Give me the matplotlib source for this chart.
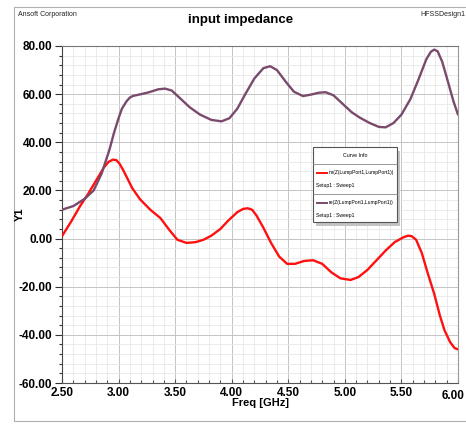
import matplotlib
matplotlib.use("Agg")
import matplotlib.pyplot as plt
from matplotlib.patches import Rectangle
from matplotlib.ticker import MultipleLocator, FuncFormatter, FormatStrFormatter

plt.rcParams['font.family'] = ['Liberation Sans Narrow', 'Liberation Sans', 'DejaVu Sans']

# re(Z(LumpPort1,LumpPort1))
re_freq = [2.50, 2.60, 2.70, 2.78, 2.85, 2.92, 2.96, 3.00, 3.03, 3.07, 3.10, 3.13,
           3.20, 3.27, 3.35, 3.41, 3.47, 3.55, 3.63, 3.72, 3.82, 3.91, 3.98, 4.05,
           4.12, 4.20, 4.28, 4.34, 4.40, 4.48, 4.55, 4.63, 4.70, 4.77, 4.83, 4.90,
           4.98, 5.06, 5.13, 5.22, 5.30, 5.36, 5.43, 5.50, 5.58, 5.65, 5.72, 5.76,
           5.79, 5.82, 5.86, 5.90, 5.96, 6.00]
re_val = [12.0, 13.5, 16.5, 20.0, 27.0, 37.0, 44.0, 50.0, 54.0, 57.0, 58.6, 59.3,
          60.0, 60.8, 62.0, 62.3, 61.5, 58.0, 54.5, 51.5, 49.3, 48.7, 50.0, 54.0,
          60.0, 66.5, 70.8, 71.6, 70.0, 65.0, 61.0, 59.2, 59.8, 60.6, 60.8, 59.5,
          56.0, 52.5, 50.3, 48.0, 46.4, 46.2, 48.0, 51.5, 58.0, 66.0, 74.5, 77.6,
          78.5, 77.8, 73.5, 67.0, 57.0, 51.5]

# im(Z(LumpPort1,LumpPort1))
im_freq = [2.50, 2.58, 2.66, 2.73, 2.80, 2.87, 2.91, 2.95, 2.98, 3.01, 3.04, 3.08,
           3.12, 3.19, 3.28, 3.37, 3.45, 3.52, 3.60, 3.68, 3.75, 3.82, 3.90, 3.97,
           4.05, 4.10, 4.14, 4.18, 4.22, 4.28, 4.35, 4.42, 4.49, 4.56, 4.64, 4.72,
           4.80, 4.88, 4.96, 5.05, 5.12, 5.20, 5.28, 5.36, 5.44, 5.52, 5.56, 5.59,
           5.63, 5.68, 5.73, 5.79, 5.84, 5.88, 5.93, 5.97, 6.00]
im_val = [1.0, 7.0, 13.5, 18.5, 24.0, 29.5, 31.8, 32.8, 32.6, 31.0, 28.5, 24.8,
          21.0, 16.3, 12.0, 8.5, 3.5, -0.5, -1.8, -1.5, -0.5, 1.2, 4.0, 7.5,
          11.0, 12.3, 12.6, 12.0, 9.5, 4.5, -2.0, -7.5, -10.5, -10.5, -9.3, -9.0,
          -10.5, -14.0, -16.5, -17.2, -16.0, -13.0, -9.0, -5.0, -1.5, 0.6, 1.2, 1.0,
          -0.5, -6.0, -14.0, -23.0, -32.0, -38.0, -43.0, -45.5, -46.0]

red = '#ff1010'
purple = '#7a4a6c'

fig = plt.figure(figsize=(4.66, 4.24), dpi=100)
fig.patch.set_facecolor('white')

# outer report frame
fig.add_artist(Rectangle((14/466, 1 - 421/424), 1.0, (421 - 7)/424,
                         transform=fig.transFigure, fill=False,
                         edgecolor='#b0b0b0', linewidth=0.8))

ax = fig.add_axes([62/466, 1 - 383/424, 396/466, 337/424])

ax.plot(im_freq, im_val, color=red, lw=1.7, solid_joinstyle='round',
        solid_capstyle='round', zorder=3)
ax.plot(re_freq, re_val, color=purple, lw=1.7, solid_joinstyle='round',
        solid_capstyle='round', zorder=3)

ax.set_xlim(2.5, 6.0)
ax.set_ylim(-60, 80)
ax.xaxis.set_major_locator(MultipleLocator(0.5))
ax.xaxis.set_minor_locator(MultipleLocator(0.1))
ax.yaxis.set_major_locator(MultipleLocator(20))
ax.yaxis.set_minor_locator(MultipleLocator(4))
# last x label is drawn by hand a bit to the left so it stays inside
ax.xaxis.set_major_formatter(FuncFormatter(lambda v, p: '' if v > 5.99 else '%.2f' % v))
ax.yaxis.set_major_formatter(FormatStrFormatter('%.2f'))

ax.grid(which='major', color='#c4c4c4', lw=0.7)
ax.grid(which='minor', color='#e8e8e8', lw=0.6)
ax.set_axisbelow(True)

ax.tick_params(axis='y', which='major', direction='out', length=5, width=0.8,
               labelsize=8.5, pad=2, colors='#333333', labelcolor='black')
ax.tick_params(axis='y', which='minor', direction='out', length=2.5, width=0.8,
               colors='#333333')
ax.tick_params(axis='x', which='major', direction='in', length=3, width=0.8,
               labelsize=8.5, pad=3, colors='#555555', labelcolor='black')
ax.tick_params(axis='x', which='minor', direction='in', length=2, width=0.8,
               colors='#555555')
for lab in ax.get_xticklabels() + ax.get_yticklabels():
    lab.set_fontweight('bold')

ax.annotate('6.00', xy=(6.0, 0), xycoords=('data', 'axes fraction'),
            xytext=(-3.5, -5.2), textcoords='offset points', ha='center', va='top',
            fontsize=8.5, fontweight='bold', annotation_clip=False)

ax.spines['left'].set_color('#444444')
ax.spines['bottom'].set_color('#555555')
ax.spines['top'].set_color('#777777')
ax.spines['right'].set_color('#999999')

ax.set_xlabel('Freq [GHz]', fontsize=8, fontweight='bold', labelpad=-1)
fig.text(20/466, 1 - 214/424, 'Y1', rotation=90, fontsize=8, fontweight='bold',
         ha='center', va='center')

fig.text(241/466, 1 - 20/424, 'input impedance', fontsize=9.5, fontweight='bold',
         ha='center', va='center')
fig.text(18/466, 1 - 15/424, 'Ansoft Corporation', fontsize=5,
         ha='left', va='center', color='#222222')
fig.text(465/466, 1 - 15/424, 'HFSSDesign1', fontsize=5,
         ha='right', va='center', color='#222222')

# Curve Info box
def fx(px):
    return (px - 62) / 396.0

def fy(py):
    return (383 - py) / 337.0

x0, x1, y0, y1 = fx(313), fx(397), fy(222), fy(147)
ax.add_patch(Rectangle((x0 + 0.008, y0 - 0.012), x1 - x0, y1 - y0,
                       transform=ax.transAxes, facecolor='#c4c4c4',
                       edgecolor='none', zorder=4))
ax.add_patch(Rectangle((x0, y0), x1 - x0, y1 - y0, transform=ax.transAxes,
                       facecolor='white', edgecolor='#555555', lw=0.8, zorder=5))
ax.text((x0 + x1) / 2, fy(155.5), 'Curve Info', transform=ax.transAxes,
        fontsize=3.8, ha='center', va='center', zorder=6)
for sep in [163.5, 194]:
    ax.plot([x0, x1], [fy(sep), fy(sep)], transform=ax.transAxes,
            color='#888888', lw=0.6, zorder=6)

entries = [('im(Z(LumpPort1,LumpPort1))', red, 172.5, 185.5),
           ('re(Z(LumpPort1,LumpPort1))', purple, 202.5, 215)]
for label, col, ly, sy in entries:
    ax.plot([fx(316.5), fx(326.5)], [fy(ly), fy(ly)], transform=ax.transAxes,
            color=col, lw=1.4, zorder=6)
    ax.text(fx(328.5), fy(ly), label, transform=ax.transAxes, fontsize=3.6,
            ha='left', va='center', zorder=6)
    ax.text(fx(316), fy(sy), 'Setup1 : Sweep1', transform=ax.transAxes,
            fontsize=3.6, ha='left', va='center', zorder=6)

fig.savefig('out.png', dpi=100, facecolor='white')
